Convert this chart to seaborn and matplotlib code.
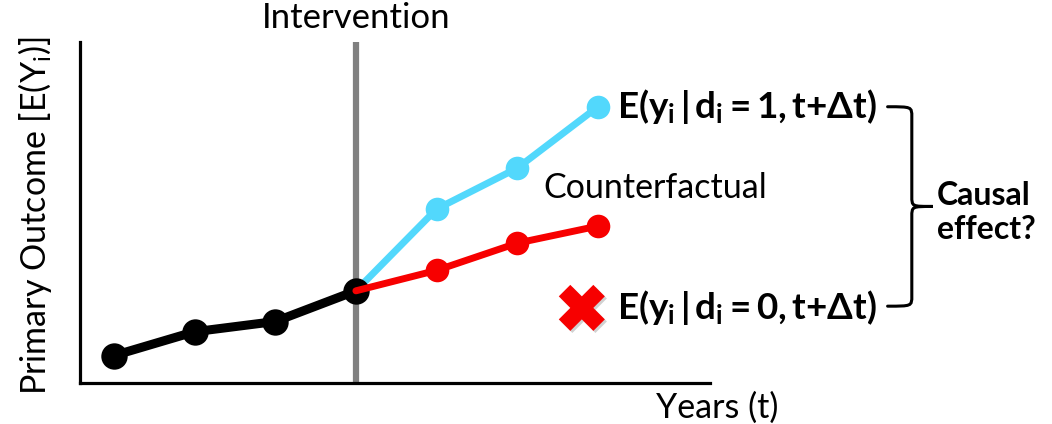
import matplotlib
matplotlib.use("Agg")
import numpy as np
import pandas as pd
import seaborn as sns
import matplotlib.pyplot as plt
from matplotlib.path import Path
from matplotlib.patches import PathPatch
import matplotlib.transforms as mtransforms
import matplotlib.patheffects as pe

# data (arbitrary outcome units)
pre_years = [1, 2, 3, 4]
pre_outcome = [0.8, 1.5, 1.8, 2.7]
post_years = [4, 5, 6, 7]
treated_outcome = [2.7, 5.1, 6.3, 8.1]
counterfactual_outcome = [2.7, 3.3, 4.1, 4.6]
intervention_year = 4
missing_year = 6.8
missing_outcome = 2.2

sns.set_style("white")
plt.rcParams["font.family"] = ["Lato", "DejaVu Sans"]
plt.rcParams["text.color"] = "black"
plt.rcParams["mathtext.fontset"] = "custom"
plt.rcParams["mathtext.rm"] = "Lato"
plt.rcParams["mathtext.it"] = "Lato:italic"
plt.rcParams["mathtext.bf"] = "Lato:bold"
plt.rcParams["mathtext.fallback"] = "stixsans"

fig = plt.figure(figsize=(10.52, 4.24), dpi=100)
ax = fig.add_axes([0.076, 0.097, 0.599, 0.804])

ax.axvline(intervention_year, color="#808080", lw=4.5, zorder=1)

sns.lineplot(x=post_years, y=treated_outcome, color="#52d8fc", lw=5, marker="o",
             markersize=17, markeredgewidth=0, markevery=[1, 2, 3], ax=ax, zorder=2)
sns.lineplot(x=pre_years, y=pre_outcome, color="black", lw=6.5, marker="o",
             markersize=19, markeredgewidth=0, ax=ax, zorder=3)
sns.lineplot(x=post_years, y=counterfactual_outcome, color="#f70000", lw=5, marker="o",
             markersize=17, markeredgewidth=0, markevery=[1, 2, 3], ax=ax, zorder=4)
sns.scatterplot(x=[missing_year], y=[missing_outcome], marker="X", s=1100,
                color="#f70000", edgecolor="none", ax=ax, zorder=5)
ax.collections[-1].set_path_effects([
    pe.SimplePatchShadow(offset=(1.5, -1.5), shadow_rgbFace="black", alpha=0.18),
    pe.Normal()])

ax.set_xlim(0.58, 8.39)
ax.set_ylim(0, 10)
ax.set_xticks([])
ax.set_yticks([])
for side in ["top", "right"]:
    ax.spines[side].set_visible(False)
for side in ["left", "bottom"]:
    ax.spines[side].set_color("black")
    ax.spines[side].set_linewidth(2.3)

ax.text(-0.071, 0.49, r"Primary Outcome [E(Y$_\mathrm{i}$)]", rotation=90,
        ha="center", va="center", fontsize=24.5, transform=ax.transAxes)
ax.text(1.012, -0.025, "Years (t)", ha="center", va="top", fontsize=24.5,
        transform=ax.transAxes)
trans = mtransforms.blended_transform_factory(ax.transData, ax.transAxes)
ax.text(intervention_year, 1.07, "Intervention", ha="center", va="center",
        fontsize=25, transform=trans)
ax.text(6.32, 5.72, "Counterfactual", ha="left", va="center", fontsize=24.5)

ax.text(7.23, treated_outcome[-1], r"$\mathbf{E(y_i\,|\,d_i = 1, t{+}\Delta t)}$",
        ha="left", va="center", fontsize=26.5, clip_on=False)
ax.text(7.23, missing_outcome, r"$\mathbf{E(y_i\,|\,d_i = 0, t{+}\Delta t)}$",
        ha="left", va="center", fontsize=26.5, clip_on=False)
ax.text(11.2, 5.0, "Causal\neffect?", ha="left", va="center", fontsize=23,
        fontweight="bold", linespacing=1.2, clip_on=False)

# curly brace between the two expected values
top, bot = treated_outcome[-1], missing_outcome + 0.05
mid = (top + bot) / 2
x0, x1, x2 = 10.59, 10.89, 11.15
verts = [(x0, top), (x1, top), (x1, top), (x1, top - 0.3),
         (x1, mid + 0.3),
         (x1, mid), (x1, mid), (x2, mid),
         (x1, mid), (x1, mid), (x1, mid - 0.3),
         (x1, bot + 0.3),
         (x1, bot), (x1, bot), (x0, bot)]
codes = [Path.MOVETO, Path.CURVE4, Path.CURVE4, Path.CURVE4,
         Path.LINETO,
         Path.CURVE4, Path.CURVE4, Path.CURVE4,
         Path.CURVE4, Path.CURVE4, Path.CURVE4,
         Path.LINETO,
         Path.CURVE4, Path.CURVE4, Path.CURVE4]
ax.add_patch(PathPatch(Path(verts, codes), fill=False, lw=2.2, color="black",
                       clip_on=False, capstyle="round"))

plt.savefig("out.png", dpi=100)
